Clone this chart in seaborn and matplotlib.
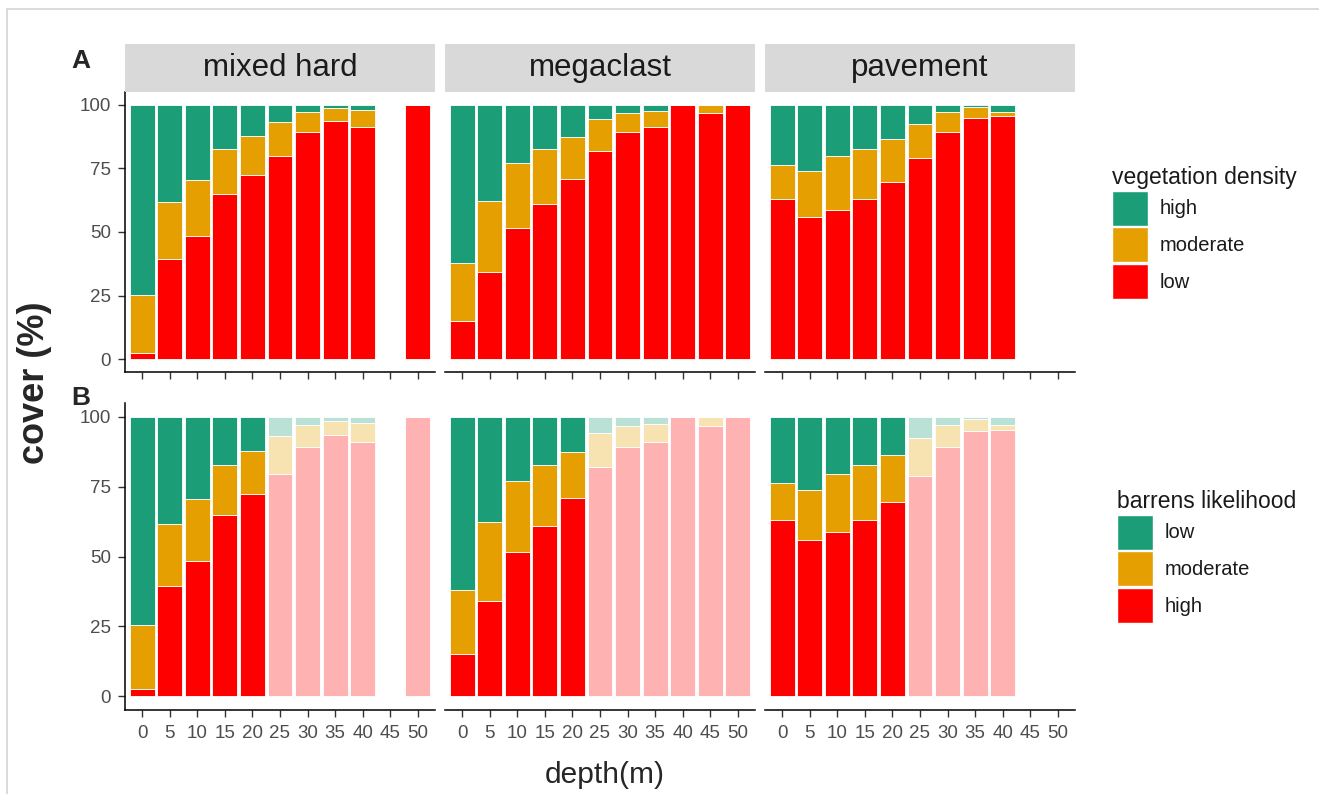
import matplotlib
matplotlib.use("Agg")
import matplotlib.pyplot as plt
from matplotlib.patches import Patch, Rectangle
from matplotlib.lines import Line2D
import pandas as pd
import seaborn as sns

# ---- data -------------------------------------------------------------
depths = [0, 5, 10, 15, 20, 25, 30, 35, 40, 45, 50]
sites = ["mixed hard", "megaclast", "pavement"]
x_ticks = [0, 5, 10, 15, 20, 25, 30, 35, 40, 45, 50]
y_ticks = [0, 25, 50, 75, 100]

# cover (%) per depth; None = depth not surveyed
mixed_high = [74.7, 38.3, 29.5, 17.3, 12.1, 6.9, 2.8, 1.3, 2.0, None, 0.0]
mixed_mod = [22.8, 22.2, 22.0, 17.7, 15.4, 13.4, 7.9, 5.1, 6.9, None, 0.0]
mixed_low = [2.5, 39.5, 48.5, 65.0, 72.5, 79.7, 89.3, 93.6, 91.1, None, 100.0]

mega_high = [62.0, 37.7, 22.9, 17.3, 12.7, 5.6, 3.3, 2.5, 0.0, 0.0, 0.0]
mega_mod = [22.8, 28.1, 25.6, 21.6, 16.5, 12.4, 7.4, 6.4, 0.0, 3.3, 0.0]
mega_low = [15.2, 34.2, 51.5, 61.1, 70.8, 82.0, 89.3, 91.1, 100.0, 96.7, 100.0]

pave_high = [23.7, 26.2, 20.3, 17.3, 13.5, 7.6, 2.9, 0.7, 2.9, None, None]
pave_mod = [13.3, 17.8, 21.1, 19.7, 17.0, 13.4, 7.8, 4.5, 1.6, None, None]
pave_low = [63.0, 56.0, 58.6, 63.0, 69.5, 79.0, 89.3, 94.8, 95.5, None, None]

density_levels = ["high", "moderate", "low"]
barrens_levels = ["low", "moderate", "high"]
level_colors = ["#1b9e77", "#e69f00", "#ff0000"]
faded_from_depth = 25

site_values = {
    "mixed hard": (mixed_high, mixed_mod, mixed_low),
    "megaclast": (mega_high, mega_mod, mega_low),
    "pavement": (pave_high, pave_mod, pave_low),
}

rows = []
for site, (hi, mo, lo) in site_values.items():
    for d, h, m, l in zip(depths, hi, mo, lo):
        if l is None:
            continue
        rows += [(site, d, "high", h), (site, d, "moderate", m), (site, d, "low", l)]
df = pd.DataFrame(rows, columns=["site", "depth", "density", "cover"])
# high vegetation density -> low barrens likelihood, and vice versa
df["barrens"] = df["density"].map({"high": "low", "moderate": "moderate", "low": "high"})

# ---- style ------------------------------------------------------------
sns.set_style("white")
plt.rcParams["font.family"] = ["Liberation Sans", "DejaVu Sans"]

W, H = 1319, 794
fig = plt.figure(figsize=(W / 100, H / 100), dpi=100)


def rect(x0, y0, x1, y1):
    return [x0 / W, 1 - y1 / H, (x1 - x0) / W, (y1 - y0) / H]


col_px = [(125, 435), (445, 755), (765, 1075)]
row_a = (92, 372)
row_b = (403, 710)
strip_px = (44, 92)


def stacked(ax, data, hue, order, alpha, brange):
    sns.histplot(data=data, x="depth", weights="cover", hue=hue, hue_order=order,
                 multiple="stack", binwidth=5, binrange=brange, shrink=0.9,
                 palette=dict(zip(order, level_colors)), alpha=alpha,
                 edgecolor="white", linewidth=0.6, legend=False, ax=ax)


def style_axis(ax, col, show_xlabels):
    ax.set_xlim(-3.1, 53.1)
    ax.set_ylim(-5, 105)
    ax.set_xticks(x_ticks)
    ax.set_yticks(y_ticks)
    ax.set_xlabel("")
    ax.set_ylabel("")
    ax.spines["top"].set_visible(False)
    ax.spines["right"].set_visible(False)
    ax.spines["bottom"].set_color("black")
    ax.spines["bottom"].set_linewidth(1.1)
    ax.tick_params(axis="both", direction="out", length=5, width=1.0,
                   color="#333333", labelsize=13.5, labelcolor="#4d4d4d")
    ax.tick_params(axis="x", bottom=True, labelbottom=show_xlabels, pad=6)
    if col == 0:
        ax.spines["left"].set_color("black")
        ax.spines["left"].set_linewidth(1.1)
        ax.tick_params(axis="y", left=True, pad=5)
    else:
        ax.spines["left"].set_visible(False)
        ax.tick_params(axis="y", left=False, labelleft=False)
    ax.set_facecolor("white")


for c, site in enumerate(sites):
    x0, x1 = col_px[c]
    sub = df[df["site"] == site]

    # panel A: vegetation density
    ax_a = fig.add_axes(rect(x0, row_a[0], x1, row_a[1]))
    stacked(ax_a, sub, "density", density_levels, 1.0, (-2.5, 52.5))
    style_axis(ax_a, c, False)

    # strip header
    fig.add_artist(Rectangle((x0 / W, 1 - strip_px[1] / H), (x1 - x0) / W,
                             (strip_px[1] - strip_px[0]) / H,
                             transform=fig.transFigure, facecolor="#d9d9d9",
                             edgecolor="none"))
    fig.text((x0 + x1) / 2 / W, 1 - (strip_px[0] + strip_px[1]) / 2 / H, site,
             ha="center", va="center", fontsize=22.5, color="#1a1a1a")

    # panel B: barrens likelihood, deeper sites faded
    ax_b = fig.add_axes(rect(x0, row_b[0], x1, row_b[1]))
    shallow = sub[sub["depth"] < faded_from_depth]
    deep = sub[sub["depth"] >= faded_from_depth]
    stacked(ax_b, shallow, "barrens", barrens_levels, 1.0, (-2.5, faded_from_depth - 2.5))
    stacked(ax_b, deep, "barrens", barrens_levels, 0.3, (faded_from_depth - 2.5, 52.5))
    style_axis(ax_b, c, True)

# panel letters and shared axis titles
fig.text(81 / W, 1 - 61 / H, "A", fontsize=19, fontweight="bold", ha="center", va="center")
fig.text(81 / W, 1 - 398 / H, "B", fontsize=19, fontweight="bold", ha="center", va="center")
fig.text(34 / W, 1 - 383 / H, "cover (%)", rotation=90, fontsize=26, fontweight="bold",
         ha="center", va="center")
fig.text(605 / W, 1 - 775 / H, "depth(m)", fontsize=21.5, ha="center", va="center")

# legends
def add_legend(title, labels, x, y):
    handles = [Patch(facecolor=col, edgecolor="white", linewidth=1.0) for col in level_colors]
    leg = fig.legend(handles, labels, title=title, loc="upper left",
                     bbox_to_anchor=(x / W, 1 - y / H), frameon=False,
                     fontsize=14.5, title_fontsize=16.5, handlelength=1.8,
                     handleheight=2.3, labelspacing=0.08, handletextpad=0.55,
                     borderpad=0, borderaxespad=0, alignment="left")
    leg.get_title().set_color("#1a1a1a")
    for t in leg.get_texts():
        t.set_color("#1a1a1a")
    return leg


add_legend("vegetation density", density_levels, 1112, 166)
add_legend("barrens likelihood", barrens_levels, 1117, 490)

# thin frame along the top and left edges
fig.add_artist(Line2D([7 / W, 7 / W], [0, 1 - 9 / H], transform=fig.transFigure,
                      color="#d4d4d4", linewidth=1.2))
fig.add_artist(Line2D([7 / W, 1], [1 - 9 / H, 1 - 9 / H], transform=fig.transFigure,
                      color="#d4d4d4", linewidth=1.2))

fig.savefig("out.png", dpi=100)
